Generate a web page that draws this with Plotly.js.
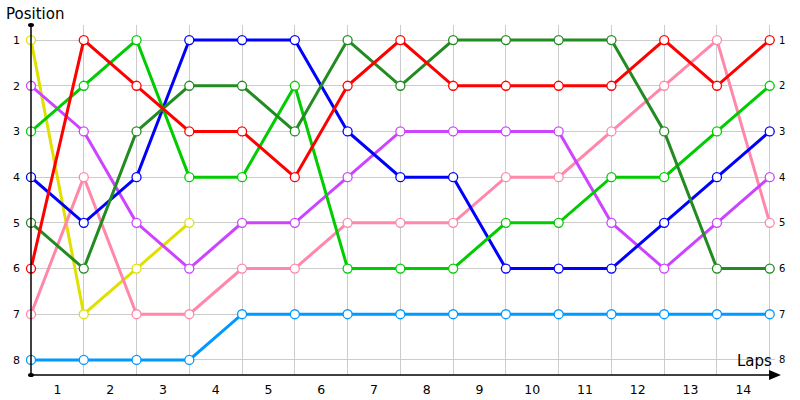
<!DOCTYPE html>
<html><head><meta charset="utf-8">
<script src="https://cdn.plot.ly/plotly-3.0.1.min.js"></script>
<style>html,body{margin:0;padding:0;background:#fff}#chart{width:800px;height:400px}</style>
</head><body><div id="chart"></div>
<script>
const laps = [0,1,2,3,4,5,6,7,8,9,10,11,12,13,14];
const lapLabels = ['1','2','3','4','5','6','7','8','9','10','11','12','13','14'];
const labelPos = [0.5,1.5,2.5,3.5,4.5,5.5,6.5,7.5,8.5,9.5,10.5,11.5,12.5,13.5];
const positions = [1,2,3,4,5,6,7,8];

const lightBlue = [8,8,8,8,7,7,7,7,7,7,7,7,7,7,7];
const yellow    = [1,7,6,5];
const pink      = [7,4,7,7,6,6,5,5,5,4,4,3,2,1,5];
const purple    = [2,3,5,6,5,5,4,3,3,3,3,5,6,5,4];
const blue      = [4,5,4,1,1,1,3,4,4,6,6,6,5,4,3];
const green     = [3,2,1,4,4,2,6,6,6,5,5,4,4,3,2];
const darkGreen = [5,6,3,2,2,3,1,2,1,1,1,1,3,6,6];
const red       = [6,1,2,3,3,4,2,1,2,2,2,2,1,2,1];

const series = [
  {name:'Light blue', y:lightBlue, color:'#0099ff'},
  {name:'Yellow', y:yellow, color:'#e0e000'},
  {name:'Pink', y:pink, color:'#ff88aa'},
  {name:'Purple', y:purple, color:'#cc44ff'},
  {name:'Blue', y:blue, color:'#0000ff'},
  {name:'Green', y:green, color:'#00cc00'},
  {name:'Dark green', y:darkGreen, color:'#228b22'},
  {name:'Red', y:red, color:'#ff0000'}
];

const traces = series.map(s => ({
  type:'scatter', mode:'lines+markers', name:s.name,
  x: laps.slice(0, s.y.length), y: s.y,
  line:{color:s.color, width:3},
  marker:{size:9, color:'#ffffff', line:{color:s.color, width:1.3}},
  hoverinfo:'skip', cliponaxis:false
}));
traces.push({type:'scatter', x:[0], y:[1], xaxis:'x2', yaxis:'y2', mode:'markers', marker:{opacity:0}, showlegend:false, hoverinfo:'skip'});

const font = 'DejaVu Sans, Verdana, sans-serif';
const layout = {
  width:800, height:400,
  margin:{l:31, r:25, t:25, b:25},
  paper_bgcolor:'#fff', plot_bgcolor:'#fff',
  showlegend:false,
  xaxis:{range:[0,14.1], tickvals:laps, showticklabels:false, showgrid:true, gridcolor:'#cccccc', gridwidth:1,
         zeroline:false, showline:false, ticks:'', fixedrange:true},
  xaxis2:{overlaying:'x', matches:'x', side:'bottom', tickvals:labelPos, ticktext:lapLabels, showgrid:false,
          zeroline:false, ticks:'', ticklabelstandoff:5, tickfont:{family:font, size:12.5, color:'#000'}, showline:false},
  yaxis:{range:[8.33,0.67], tickvals:positions, ticktext:positions.map(String), showgrid:true, gridcolor:'#cccccc',
         zeroline:false, showline:false, ticks:'', ticklabelstandoff:10,
         tickfont:{family:font, size:11, color:'#000'}},
  yaxis2:{overlaying:'y', matches:'y', side:'right', tickvals:positions, ticktext:positions.map(String), showgrid:false,
          zeroline:false, ticks:'', tickfont:{family:font, size:10, color:'#000'}, ticklabelstandoff:3},
  shapes:[
    {type:'line', xref:'paper', yref:'paper', x0:0, x1:0, y0:0, y1:1, line:{color:'#000', width:1.5}},
    {type:'line', xref:'paper', yref:'paper', x0:0, x1:1.003, y0:0, y1:0, line:{color:'#000', width:1.5}},
    {type:'circle', xref:'paper', yref:'paper', x0:-0.004, x1:0.004, y0:0.994, y1:1.006, fillcolor:'#000', line:{width:0}},
    {type:'circle', xref:'paper', yref:'paper', x0:-0.004, x1:0.004, y0:-0.006, y1:0.006, fillcolor:'#000', line:{width:0}},
    {type:'path', xref:'paper', yref:'paper', path:'M 0.992 0.014 L 1.008 0 L 0.992 -0.014 Z', fillcolor:'#000', line:{width:0}}
  ],
  annotations:[
    {xref:'paper', yref:'paper', x:-0.036, y:1.03, xanchor:'left', yanchor:'middle', text:'Position', showarrow:false,
     font:{family:font, size:15, color:'#000'}},
    {xref:'paper', yref:'paper', x:0.999, y:0.008, xanchor:'right', yanchor:'bottom', text:'Laps', showarrow:false,
     font:{family:font, size:15, color:'#000'}}
  ]
};
Plotly.newPlot('chart', traces, layout, {displayModeBar:false, staticPlot:true});
</script></body></html>
